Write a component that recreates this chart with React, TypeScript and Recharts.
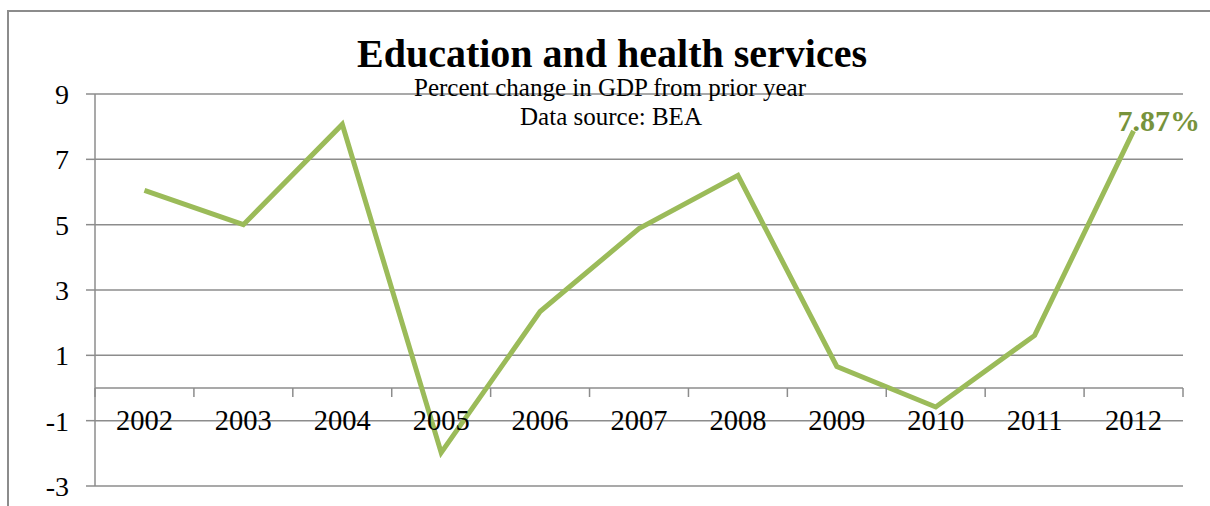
import React from 'react';
import {
  LineChart,
  Line,
  XAxis,
  YAxis,
  CartesianGrid,
  ReferenceLine
} from 'recharts';

// values
const years = ['2002', '2003', '2004', '2005', '2006', '2007', '2008', '2009', '2010', '2011', '2012'];
const growth = [6.05, 5.0, 8.07, -1.98, 2.34, 4.88, 6.51, 0.66, -0.58, 1.61, 7.87];
const yTicks = [-3, -1, 1, 3, 5, 7, 9];

const Y_MIN = -3;
const Y_MAX = 9;

// layout
const W = 1210;
const H = 506;
const PLOT_LEFT = 95;
const PLOT_RIGHT = 1183;
const PLOT_TOP = 94;
const PLOT_BOTTOM = 486;
const BAND = (PLOT_RIGHT - PLOT_LEFT) / years.length;

const FONT = '"Liberation Serif", "Times New Roman", serif';
const GRID = '#8c8c8c';
const GREEN = '#9BBB59';

const yPix = (v: number) =>
  PLOT_TOP + ((Y_MAX - v) / (Y_MAX - Y_MIN)) * (PLOT_BOTTOM - PLOT_TOP);

const data = years.map((year, i) => ({ year, value: growth[i] }));

// category labels sit just under the zero line, like Excel's crossing axis
const YearTick = (props: any) => {
  const { x, payload, index } = props;
  const zeroY = yPix(0);
  const last = index === years.length - 1;
  return (
    <g>
      <line x1={x - BAND / 2} y1={zeroY} x2={x - BAND / 2} y2={zeroY + 9} stroke={GRID} strokeWidth={1.5} />
      {last && (
        <line x1={x + BAND / 2} y1={zeroY} x2={x + BAND / 2} y2={zeroY + 9} stroke={GRID} strokeWidth={1.5} />
      )}
      <text x={x} y={yPix(-1) + 9.5} textAnchor="middle" fontSize={28.5} fontFamily={FONT} fill="#000">
        {payload.value}
      </text>
    </g>
  );
};

const EndLabel = (props: any) => {
  const { x, y, index, value } = props;
  if (index !== years.length - 1) return null;
  return (
    <text x={x - 16} y={y} fontSize={30} fontWeight="bold" fontFamily={FONT} fill="#77933C">
      {`${value}%`}
    </text>
  );
};

export default function App() {
  return (
    <div style={{ position: 'absolute', left: 0, top: 0, width: W, height: H, background: '#fff' }}>
      <LineChart
        width={W}
        height={H}
        data={data}
        margin={{ top: PLOT_TOP, right: W - PLOT_RIGHT, bottom: 0, left: PLOT_LEFT - 60 }}
      >
        <CartesianGrid vertical={false} stroke={GRID} strokeWidth={1.5} />
        <XAxis
          dataKey="year"
          height={H - PLOT_BOTTOM}
          axisLine={false}
          tickLine={false}
          interval={0}
          padding={{ left: BAND / 2, right: BAND / 2 }}
          tick={<YearTick />}
        />
        <YAxis
          width={60}
          domain={[Y_MIN, Y_MAX]}
          ticks={yTicks}
          allowDataOverflow
          axisLine={{ stroke: GRID, strokeWidth: 1.5 }}
          tickLine={{ stroke: GRID, strokeWidth: 1.5 }}
          tickSize={9}
          tickMargin={17}
          tick={{ fontSize: 28, fontFamily: FONT, fill: '#000' }}
        />
        <ReferenceLine y={0} stroke={GRID} strokeWidth={1.5} />
        <Line
          type="linear"
          dataKey="value"
          stroke={GREEN}
          strokeWidth={5}
          dot={false}
          activeDot={false}
          isAnimationActive={false}
          label={<EndLabel />}
        />
      </LineChart>
      <svg
        width={W}
        height={H}
        style={{ position: 'absolute', left: 0, top: 0, pointerEvents: 'none' }}
      >
        <path d={`M 8 ${H} L 8 11 L ${W} 11`} fill="none" stroke={GRID} strokeWidth={2} />
        <text x={612} y={67} textAnchor="middle" fontSize={40} fontWeight="bold" fontFamily={FONT} fill="#000">
          Education and health services
        </text>
        <text x={610} y={96} textAnchor="middle" fontSize={25} fontFamily={FONT} fill="#000">
          Percent change in GDP from prior year
        </text>
        <text x={611} y={125} textAnchor="middle" fontSize={25} fontFamily={FONT} fill="#000">
          Data source: BEA
        </text>
      </svg>
    </div>
  );
}
